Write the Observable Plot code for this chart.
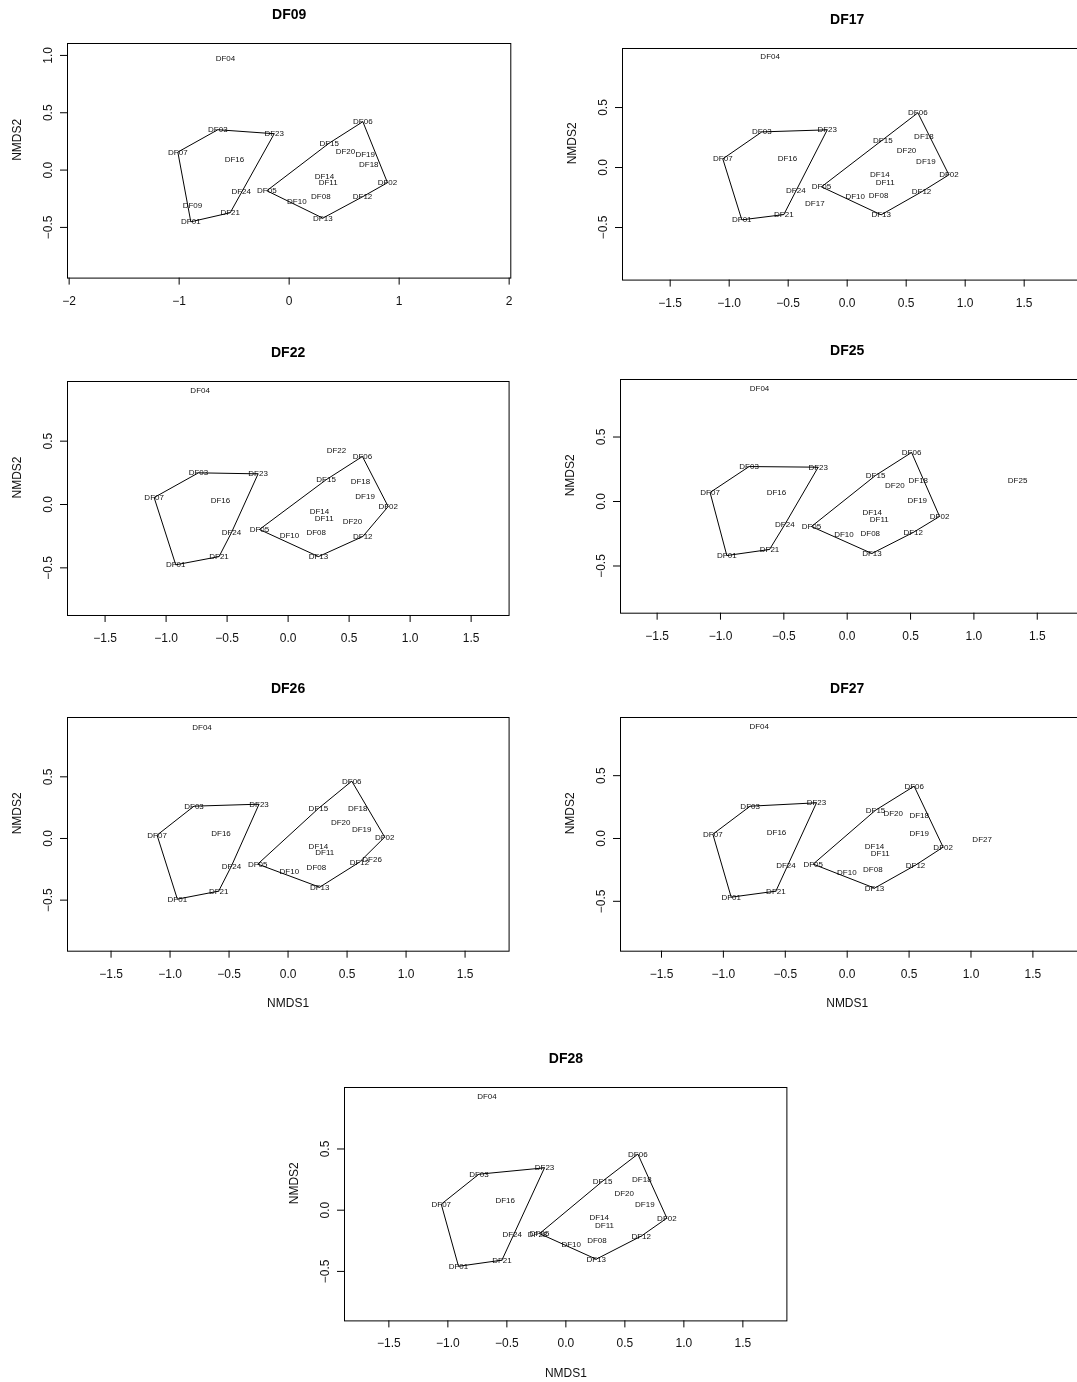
<!DOCTYPE html>
<html><head><meta charset="utf-8">
<script src="https://cdn.jsdelivr.net/npm/d3@7"></script>
<script src="https://cdn.jsdelivr.net/npm/@observablehq/plot@0.6"></script>
<style>
html,body{margin:0;padding:0;background:#fff;overflow:hidden;}
#root{position:relative;width:1077px;height:1382px;overflow:hidden;background:#fff;}
.panel{position:absolute;will-change:transform;}
</style></head><body><div id="root"></div>
<script>
// ---- data ----
const sites = ["DF01","DF02","DF03","DF04","DF05","DF06","DF07","DF08","DF10","DF11","DF12","DF13","DF14","DF15","DF16","DF18","DF19","DF20","DF21","DF23","DF24"];
const groupLeft = ["DF01","DF03","DF07","DF16","DF21","DF23","DF24"];
const groupRight = ["DF02","DF05","DF06","DF08","DF10","DF11","DF12","DF13","DF14","DF15","DF18","DF19","DF20"];
const panelTitles = ["DF09","DF17","DF22","DF25","DF26","DF27","DF28"];

const xTicksWide = [-2, -1, 0, 1, 2];
const yTicksWide = [-0.5, 0, 0.5, 1];
const xTicksStd = [-1.5, -1, -0.5, 0, 0.5, 1, 1.5];
const yTicksStd = [-0.5, 0, 0.5];

// coordinates: order = sites, then the panel's own sample last
const nmds1DF09 = [-0.894,0.894,-0.648,-0.579,-0.203,0.670,-1.012,0.288,0.070,0.355,0.667,0.306,0.321,0.364,-0.497,0.724,0.691,0.512,-0.536,-0.136,-0.436,-0.879];
const nmds2DF09 = [-0.451,-0.110,0.352,0.977,-0.180,0.422,0.157,-0.233,-0.270,-0.110,-0.233,-0.419,-0.058,0.235,0.090,0.047,0.140,0.166,-0.372,0.317,-0.189,-0.311];

const nmds1DF17 = [-0.893,0.862,-0.723,-0.653,-0.218,0.599,-1.054,0.266,0.068,0.322,0.630,0.288,0.277,0.302,-0.506,0.650,0.667,0.503,-0.537,-0.169,-0.435,-0.274];
const nmds2DF17 = [-0.436,-0.061,0.297,0.922,-0.161,0.456,0.072,-0.233,-0.242,-0.128,-0.203,-0.394,-0.061,0.222,0.072,0.256,0.047,0.139,-0.392,0.314,-0.194,-0.300];

const nmds1DF22 = [-0.921,0.820,-0.735,-0.721,-0.235,0.609,-1.098,0.230,0.011,0.295,0.612,0.249,0.257,0.311,-0.555,0.593,0.631,0.527,-0.566,-0.246,-0.464,0.396];
const nmds2DF22 = [-0.476,-0.016,0.250,0.897,-0.197,0.379,0.055,-0.221,-0.245,-0.113,-0.253,-0.411,-0.055,0.195,0.032,0.182,0.063,-0.134,-0.411,0.242,-0.221,0.426];

const nmds1DF25 = [-0.950,0.729,-0.774,-0.692,-0.282,0.508,-1.082,0.182,-0.026,0.253,0.521,0.195,0.197,0.224,-0.558,0.561,0.553,0.376,-0.613,-0.229,-0.492,1.345];
const nmds2DF25 = [-0.419,-0.116,0.271,0.876,-0.194,0.380,0.070,-0.248,-0.253,-0.140,-0.240,-0.403,-0.085,0.202,0.070,0.163,0.008,0.124,-0.372,0.266,-0.178,0.163];

const nmds1DF26 = [-0.938,0.819,-0.797,-0.729,-0.257,0.540,-1.110,0.240,0.011,0.311,0.605,0.268,0.257,0.257,-0.568,0.590,0.624,0.446,-0.588,-0.246,-0.480,0.712];
const nmds2DF26 = [-0.492,0.011,0.262,0.903,-0.208,0.465,0.027,-0.232,-0.265,-0.111,-0.192,-0.395,-0.062,0.243,0.043,0.243,0.076,0.132,-0.427,0.278,-0.224,-0.168];

const nmds1DF27 = [-0.937,0.775,-0.784,-0.711,-0.275,0.541,-1.085,0.207,-0.003,0.267,0.552,0.221,0.221,0.229,-0.571,0.582,0.582,0.372,-0.576,-0.248,-0.495,1.090];
const nmds2DF27 = [-0.467,-0.069,0.257,0.894,-0.204,0.416,0.034,-0.244,-0.268,-0.117,-0.212,-0.395,-0.061,0.225,0.050,0.186,0.042,0.202,-0.419,0.284,-0.212,-0.005];

const nmds1DF28 = [-0.910,0.856,-0.737,-0.669,-0.223,0.610,-1.056,0.263,0.045,0.328,0.638,0.257,0.282,0.311,-0.514,0.644,0.669,0.494,-0.542,-0.181,-0.455,-0.240];
const nmds2DF28 = [-0.458,-0.065,0.294,0.931,-0.191,0.458,0.049,-0.245,-0.278,-0.123,-0.212,-0.400,-0.057,0.237,0.082,0.253,0.049,0.139,-0.408,0.346,-0.196,-0.196];

// ---- layout (pixel box of each panel and its scale domains) ----
const layout = [
  {box:[66.7,42.7,510,277.3],   xDomain:[-2.015,2.015], yDomain:[-0.942,1.104], xLabel:false},
  {box:[622.3,47.7,1100,279.3], xDomain:[-1.904,2.144], yDomain:[-0.938,0.992], xLabel:false},
  {box:[66.7,381,508.3,615],    xDomain:[-1.808,1.811], yDomain:[-0.876,0.971], xLabel:false},
  {box:[620,379,1100,612.7],    xDomain:[-1.789,1.999], yDomain:[-0.866,0.946], xLabel:false},
  {box:[66.7,717.3,508.3,951],  xDomain:[-1.869,1.873], yDomain:[-0.914,0.981], xLabel:true},
  {box:[620,717.3,1100,951],    xDomain:[-1.831,2.046], yDomain:[-0.897,0.963], xLabel:true},
  {box:[344.3,1087.3,786.7,1320.7], xDomain:[-1.876,1.873], yDomain:[-0.904,1.002], xLabel:true}
];
const coords = {
  DF09:[nmds1DF09,nmds2DF09], DF17:[nmds1DF17,nmds2DF17], DF22:[nmds1DF22,nmds2DF22],
  DF25:[nmds1DF25,nmds2DF25], DF26:[nmds1DF26,nmds2DF26], DF27:[nmds1DF27,nmds2DF27],
  DF28:[nmds1DF28,nmds2DF28]
};

const FONT = "'Liberation Sans', Arial, Helvetica, sans-serif";
const root = document.getElementById("root");
const mL = 75, mT = 45, mB = 70, mR = 5;

panelTitles.forEach((title, i) => {
  const L = layout[i];
  const [x1, y1] = coords[title];
  const names = sites.concat([title]);
  const rows = names.map((s, k) => ({
    site: s, x: x1[k], y: y1[k],
    group: groupLeft.includes(s) ? "A" : groupRight.includes(s) ? "B" : null
  }));
  const wide = i === 0;
  const xt = wide ? xTicksWide : xTicksStd;
  const yt = wide ? yTicksWide : yTicksStd;
  const xf = wide ? d3.format("d") : d3.format(".1f");
  const yf = d3.format(".1f");
  const [bl, bt, br, bb] = L.box;
  const W = br - bl + mL + mR, H = bb - bt + mT + mB;
  const marks = [
    Plot.text(rows, {x: "x", y: "y", text: "site", fontSize: 8, fill: "#111"}),
    Plot.hull(rows.filter(d => d.group), {x: "x", y: "y", z: "group", stroke: "#000", strokeWidth: 1}),
    Plot.frame({stroke: "#000", strokeWidth: 1}),
    Plot.axisX({ticks: xt, tickFormat: xf, tickSize: 7, tickPadding: 11, fontSize: 12, label: null, stroke: "#000", fill: "#111"}),
    Plot.axisY({ticks: yt, tickFormat: yf, tickSize: 7, tickPadding: 9, tickRotate: -90, fontSize: 12, label: null, stroke: "#000", fill: "#111"}),
    Plot.text([{t: title, x: 0}], {x: "x", text: "t", frameAnchor: "top", dy: -34, fontSize: 14, fontWeight: "bold", fill: "#000"}),
    Plot.text(["NMDS2"], {text: d => d, frameAnchor: "left", dx: -50, rotate: -90, fontSize: 12, fill: "#111"})
  ];
  if (L.xLabel) marks.push(Plot.text([{t: "NMDS1", x: 0}], {x: "x", text: "t", frameAnchor: "bottom", dy: 56, fontSize: 12, fill: "#111"}));
  const svg = Plot.plot({
    width: W, height: H,
    marginLeft: mL, marginRight: mR, marginTop: mT, marginBottom: mB,
    x: {domain: L.xDomain},
    y: {domain: L.yDomain},
    style: {fontFamily: FONT, background: "transparent", color: "#000", overflow: "visible"},
    marks
  });
  svg.classList.add("panel");
  svg.style.left = (bl - mL) + "px";
  svg.style.top = (bt - mT) + "px";
  root.appendChild(svg);
});
</script></body></html>
